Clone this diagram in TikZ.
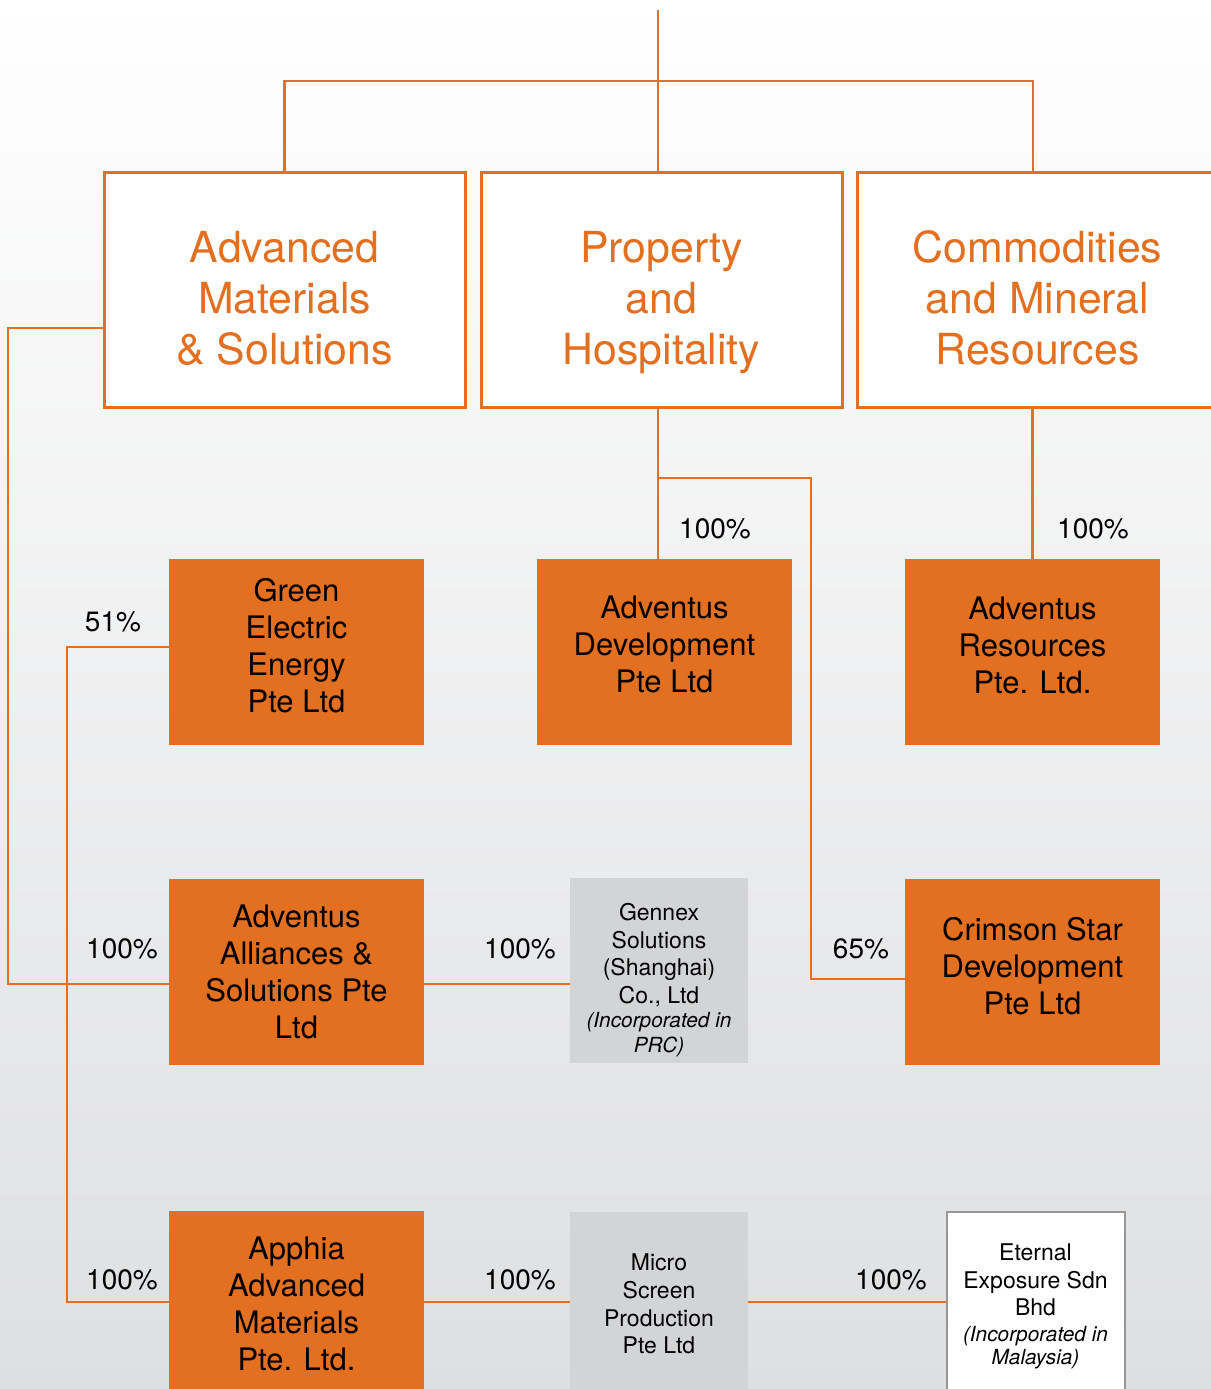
\documentclass[tikz,border=0pt]{standalone}
\usepackage{fontspec}
\setmainfont{TeX Gyre Heros}
\definecolor{advorange}{RGB}{227,111,32}
\definecolor{advgrey}{RGB}{211,212,214}
\definecolor{advframe}{RGB}{150,150,150}
\definecolor{advback}{RGB}{222,223,225}
\newcommand{\incorp}[1]{{\fontsize{10.4}{12.5}\selectfont\itshape #1}}
\tikzset{
	link/.style={draw=advorange, line width=1.4pt},
	segment/.style={draw=advorange, line width=1.5pt, fill=white, text=advorange,
		minimum width=180.5pt, minimum height=117.5pt, align=center, inner sep=0pt,
		text height=74.5pt, text depth=0pt, font=\fontsize{21.4}{25.5}\selectfont},
	company/.style={fill=advorange, minimum width=127.5pt, minimum height=93pt,
		align=center, inner sep=0pt, font=\fontsize{15.5}{18.5}\selectfont},
	raised/.style={text depth=7pt},
	affiliate/.style={fill=advgrey, minimum width=89pt, minimum height=92.5pt,
		align=center, inner sep=0pt, font=\fontsize{11.5}{13.8}\selectfont},
	foreign/.style={affiliate, fill=white, draw=advframe, line width=1pt},
	share/.style={font=\fontsize{14}{16}\selectfont},
}
\begin{document}
\begin{tikzpicture}[x=0.5pt, y=-0.5pt]
		\useasboundingbox (0,0) rectangle (1211,1389);
		\clip (0,0) rectangle (1211,1389);
		\shade[top color=white, bottom color=advback] (0,0) rectangle (1211,1389);
		% Business segments
		\node[segment] (ams)  at (284.5,289.5)  {Advanced\\Materials\\\& Solutions};
		\node[segment] (prop) at (661.5,289.5)  {Property\\and\\Hospitality};
		\node[segment] (comm) at (1037.5,289.5) {Commodities\\and Mineral\\Resources};
		% Subsidiaries
		\node[company, raised] (green)  at (296.5,652)  {Green\\Electric\\Energy\\Pte Ltd};
		\node[company, raised, text depth=8pt] (advdev) at (664.5,652) {Adventus\\Development\\Pte Ltd};
		\node[company, raised] (advres) at (1032.5,652) {Adventus\\Resources\\Pte. Ltd.};
		\node[company] (alliance) at (296.5,971.5)  {Adventus\\Alliances \&\\Solutions Pte\\Ltd};
		\node[company, raised, text depth=6pt] (crimson) at (1032.5,971.5) {Crimson Star\\Development\\Pte Ltd};
		\node[company] (apphia)   at (296.5,1304)   {Apphia\\Advanced\\Materials\\Pte. Ltd.};
		\node[affiliate, text height=82pt, text depth=0pt] (gennex) at (659,970.5)
			{Gennex\\Solutions\\(Shanghai)\\Co., Ltd\\[-1.5pt]\incorp{(Incorporated in}\\[-1.5pt]\incorp{PRC)}};
		\node[affiliate] (micro)  at (659,1304)     {Micro\\Screen\\Production\\Pte Ltd};
		\node[foreign, text height=60.5pt, text depth=0pt] (eternal) at (1035.5,1304)
			{Eternal\\Exposure Sdn\\Bhd\\[-0.7pt]\incorp{(Incorporated in}\\[-2.5pt]\incorp{Malaysia)}};
		% Connectors
		\coordinate (root) at (658,10);
		\coordinate (bar)  at (658,81);
		\coordinate (fork) at (658,478);
		\coordinate (bend) at (811,478);
		\coordinate (rail) at (8,328);
		\coordinate (spine) at (67,647);
		\coordinate (commin)    at ([xshift=-2.25pt]comm.north);
		\coordinate (amsout)    at ([yshift=-19.25pt]ams.west);
		\coordinate (greenin)   at ([yshift=2.5pt]green.west);
		\coordinate (allin)     at ([yshift=-6.25pt]alliance.west);
		\coordinate (allout)    at ([yshift=-6.25pt]alliance.east);
		\coordinate (crimsonin) at ([yshift=-3.75pt]crimson.west);
		\coordinate (apphiain)  at ([yshift=1pt]apphia.west);
		\draw[link] (root) -- (root |- prop.north);
		\draw[link] (ams.north) |- (bar) -| (commin);
		\draw[link] (root |- prop.south) -- (root |- advdev.north);
		\draw[link] (fork) -- (bend) |- (crimsonin);
		\draw[link] (advres.north |- comm.south) -- (advres.north);
		\draw[link] (amsout) -- (rail) |- (allin);
		\draw[link] (greenin) -- (spine) |- (apphiain);
		\draw[link] (allout) -- (allout -| gennex.west);
		\draw[link] (apphiain) -- (apphiain -| micro.west) (apphiain -| micro.east) -- (apphiain -| eternal.west);
		% Shareholdings
		\foreach \x/\y/\t [count=\i] in {715/529/100, 1093/529/100, 113/622/51,
			122/949/100, 520/949/100, 861/949/65, 122/1280/100, 520/1280/100, 891/1280/100}
			\node[share] (pct\i) at (\x,\y) {\t\%};
	\end{tikzpicture}
\end{document}
